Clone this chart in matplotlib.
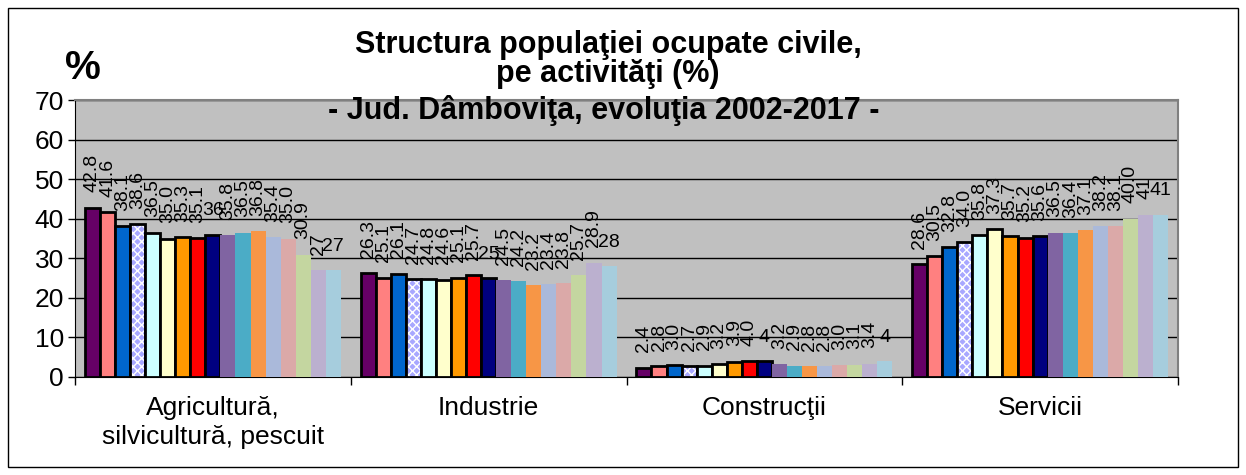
import matplotlib
matplotlib.use("Agg")
import matplotlib.pyplot as plt
from matplotlib.patches import Rectangle
import numpy as np

plt.rcParams['font.family'] = ['Liberation Sans', 'DejaVu Sans']

# categories and one series per year (ints are shown without decimals, as in the source)
categories = ['Agricultură,\nsilvicultură, pescuit', 'Industrie', 'Construcţii', 'Servicii']
agricultura = [42.8, 41.6, 38.1, 38.6, 36.5, 35.0, 35.3, 35.1, 36, 35.8, 36.5, 36.8, 35.4, 35.0, 30.9, 27, 27]
industrie = [26.3, 25.1, 26.1, 24.7, 24.8, 24.6, 25.1, 25.7, 25, 24.5, 24.2, 23.2, 23.4, 23.8, 25.7, 28.9, 28]
constructii = [2.4, 2.8, 3.0, 2.7, 2.9, 3.2, 3.9, 4.0, 4, 3.2, 2.9, 2.8, 2.8, 3.0, 3.1, 3.4, 4]
servicii = [28.6, 30.5, 32.8, 34.0, 35.8, 37.3, 35.7, 35.2, 35.6, 36.5, 36.4, 37.1, 38.2, 38.1, 40.0, 41, 41]

colors = ['#660066', '#FF8080', '#0066CC', '#A8A8FF', '#CCFFFF', '#FFFFCC', '#FF9900',
          '#FF0000', '#000080', '#8064A2', '#4BACC6', '#F79646', '#AAB9DA', '#DBA9A8',
          '#C4D6A0', '#BBB0CF', '#A6CDDD']

series = [agricultura, industrie, constructii, servicii]
n_cat, n_ser = len(series), len(agricultura)

fig = plt.figure(figsize=(12.46, 4.75), dpi=100)
W, H = 1246, 475

# outer frame
fig.patches.append(Rectangle((8 / W, 8 / H), 1230 / W, 459 / H, transform=fig.transFigure,
                             fill=False, edgecolor='black', linewidth=1))

ax = fig.add_axes([75 / W, (H - 377) / H, (1178 - 75) / W, (377 - 100) / H])
ax.set_facecolor('#C0C0C0')

group_w = 0.928
bw = group_w / n_ser
x = np.arange(n_cat)

for j in range(n_ser):
    xs = x - group_w / 2 + bw * (j + 0.5)
    vals = [s[j] for s in series]
    if j < 9:
        if j == 3:
            ax.bar(xs, vals, bw, color=colors[j], edgecolor='white', hatch='xxxx', linewidth=0, zorder=3)
            ax.bar(xs, vals, bw, fill=False, edgecolor='black', linewidth=2, zorder=3)
        else:
            ax.bar(xs, vals, bw, color=colors[j], edgecolor='black', linewidth=2, zorder=3)
    else:
        ax.bar(xs, vals, bw, color=colors[j], linewidth=0, zorder=3)
    for xi, v in zip(xs, vals):
        lab = str(v) if isinstance(v, int) else '%.1f' % v
        horiz = (j == 16) or (j == 8 and isinstance(v, int))
        ax.annotate(lab, (xi, v), xytext=(0, 11), textcoords='offset points',
                    ha='center', va='bottom', rotation=0 if horiz else 90,
                    fontsize=14, zorder=5)

ax.set_ylim(0, 70)
ax.set_xlim(-0.5, n_cat - 0.5)
ax.set_yticks(range(0, 71, 10))
ax.tick_params(axis='y', labelsize=19, direction='out', length=5, width=1, pad=3)
ax.yaxis.grid(True, color='black', linewidth=1, zorder=1)
ax.set_axisbelow(True)

ax.set_xticks(np.arange(-0.5, n_cat, 1.0))
ax.set_xticklabels([])
ax.tick_params(axis='x', which='major', direction='out', length=6, width=1)
ax.set_xticks(x, minor=True)
ax.set_xticklabels(categories, minor=True, fontsize=19, linespacing=1.25)
ax.tick_params(axis='x', which='minor', length=0, pad=14)

for s in ['top', 'right']:
    ax.spines[s].set_color('#808080')
    ax.spines[s].set_linewidth(1.5)

# title and unit
fig.text(608 / W, 1 - 45 / H, 'Structura populaţiei ocupate civile,', ha='center', va='center',
         fontsize=22, fontweight='bold')
fig.text(608 / W, 1 - 74 / H, 'pe activităţi (%)', ha='center', va='center',
         fontsize=22, fontweight='bold')
fig.text(604 / W, 1 - 110 / H, '- Jud. Dâmboviţa, evoluţia 2002-2017 -', ha='center', va='center',
         fontsize=22, fontweight='bold', zorder=6)
fig.text(83 / W, 1 - 68 / H, '%', ha='center', va='center', fontsize=29, fontweight='bold')

fig.savefig('out.png', dpi=100)
